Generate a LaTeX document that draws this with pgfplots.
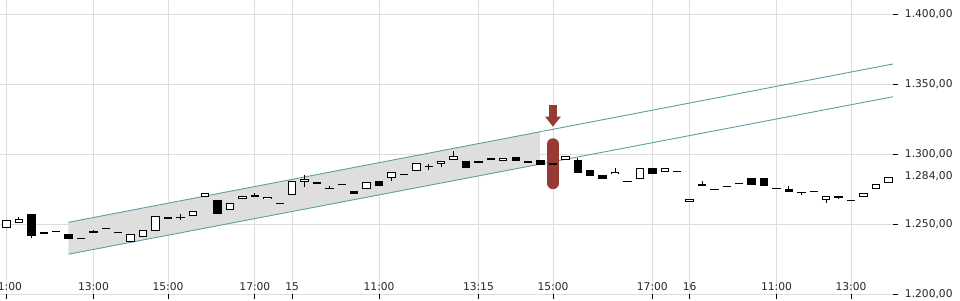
\documentclass[border=0pt]{standalone}
\usepackage{pgfplots}
\pgfplotsset{compat=1.18}
\usepackage{pgfplotstable}
\usepackage{fontspec}
\setmainfont{DejaVu Sans}
\usetikzlibrary{arrows.meta}
\definecolor{gridc}{RGB}{221,221,221}
\definecolor{chan}{RGB}{95,158,160}
\definecolor{shadec}{RGB}{222,222,222}
\definecolor{sigred}{RGB}{152,58,52}

\pgfplotstableread{
x o h l c
0 1246.9 1252.6 1246.9 1252.6
1 1250.5 1255.0 1250.5 1253.8
2 1257.1 1257.1 1240.2 1241.6
3 1244.3 1244.3 1242.6 1242.6
4 1244.8 1244.8 1244.8 1244.8
5 1242.9 1242.9 1239.5 1239.5
6 1239.8 1239.8 1239.8 1239.8
7 1245.0 1245.9 1243.4 1243.8
8 1246.9 1246.9 1246.9 1246.9
9 1244.1 1244.1 1244.1 1244.1
10 1236.9 1242.6 1236.9 1242.6
11 1240.5 1245.5 1240.5 1245.5
12 1244.8 1255.5 1244.8 1255.5
13 1254.8 1254.8 1253.8 1253.8
14 1255.0 1257.5 1252.9 1254.0
15 1255.5 1259.3 1255.5 1259.3
16 1269.5 1272.1 1269.5 1272.1
17 1267.1 1267.1 1256.9 1256.9
18 1259.8 1265.0 1259.8 1265.0
19 1267.6 1269.8 1267.6 1269.8
20 1270.7 1271.9 1269.1 1269.1
21 1267.6 1269.1 1267.6 1269.1
22 1264.3 1264.3 1264.3 1264.3
23 1270.5 1280.7 1270.5 1280.7
24 1280.2 1285.0 1276.2 1282.1
25 1280.0 1280.0 1278.4 1278.4
26 1275.4 1277.1 1274.8 1274.8
27 1278.0 1278.0 1278.0 1278.0
28 1273.6 1273.6 1271.7 1271.7
29 1274.8 1279.8 1274.8 1279.8
30 1280.7 1280.7 1276.9 1276.9
31 1283.1 1287.4 1280.9 1287.4
32 1285.2 1285.2 1285.2 1285.2
33 1288.1 1293.6 1288.1 1293.6
34 1291.0 1292.9 1288.6 1290.5
35 1292.6 1294.8 1290.5 1294.8
36 1295.7 1301.9 1295.7 1298.6
37 1295.2 1295.2 1290.2 1290.2
38 1293.4 1294.8 1293.4 1294.8
39 1295.5 1296.9 1295.5 1296.9
40 1294.8 1296.9 1294.8 1296.9
41 1297.6 1297.6 1295.0 1295.0
42 1295.0 1295.0 1293.6 1293.6
43 1295.7 1295.7 1292.4 1292.4
44 1293.8 1293.8 1292.4 1292.4
45 1295.5 1298.4 1295.5 1298.4
46 1295.7 1296.9 1286.6 1286.6
47 1288.6 1288.6 1284.5 1284.5
48 1285.0 1285.0 1282.4 1282.4
49 1285.5 1289.8 1285.5 1287.1
50 1280.5 1280.5 1280.5 1280.5
51 1281.9 1289.8 1281.9 1289.8
52 1290.0 1290.0 1285.5 1285.5
53 1286.9 1289.8 1286.9 1289.8
54 1287.6 1287.6 1287.6 1287.6
55 1265.5 1267.6 1265.5 1267.6
56 1278.6 1280.7 1277.4 1277.4
57 1274.8 1274.8 1274.8 1274.8
58 1276.9 1276.9 1276.9 1276.9
59 1278.6 1278.6 1278.6 1278.6
60 1282.6 1282.6 1278.1 1278.1
61 1282.6 1282.6 1277.4 1277.4
62 1275.5 1275.5 1275.5 1275.5
63 1274.8 1277.1 1273.1 1273.1
64 1272.9 1272.9 1270.9 1271.9
65 1272.9 1272.9 1272.9 1272.9
66 1266.9 1269.8 1265.2 1269.8
67 1269.8 1269.8 1268.1 1268.8
68 1266.9 1266.9 1266.9 1266.9
69 1269.1 1272.1 1269.1 1272.1
70 1275.2 1278.6 1275.2 1278.6
71 1279.5 1283.6 1279.5 1283.6
}\candles

\begin{document}
\begin{tikzpicture}
\path[use as bounding box] (0pt,-6pt) rectangle (960pt,294pt);
\begin{axis}[
  at={(0pt,0pt)}, anchor=south west,
  scale only axis, width=893pt, height=294pt,
  xmin=-0.523, xmax=71.38, ymin=1200, ymax=1410,
  axis line style={draw=none},
  grid=major, major grid style={gridc, line width=0.9pt},
  tick align=outside, major tick length=5pt,
  tick style={black, line width=0.9pt},
  xtick pos=bottom, ytick pos=right, yticklabel pos=right,
  xtick={0,7,13,20,23,30,38,44,52,55,62,68},
  xticklabels={11:00,13:00,15:00,17:00,15,11:00,13:15,15:00,17:00,16,11:00,13:00},
  ytick={1200,1250,1300,1350,1400},
  extra y ticks={1284},
  extra y tick style={grid=none, tick style={draw=none}},
  /pgf/number format/assume math mode=true,
  ticklabel style={font=\fontsize{10.7}{12}\selectfont, text=black!85},
  xticklabel style={anchor=base, yshift=8.3pt},
  yticklabel style={anchor=west, xshift=3.4pt,
    /pgf/number format/fixed, /pgf/number format/fixed zerofill,
    /pgf/number format/precision=2, /pgf/number format/use comma,
    /pgf/number format/1000 sep={.}},
]
\addplot[fill=shadec, draw=none] coordinates {(4.98,1251.2) (42.95,1315.9) (42.95,1292.7) (4.98,1228.4)} -- cycle;
\addplot[chan, line width=0.9pt] coordinates {(4.98,1251.2) (71.38,1364.3)};
\addplot[chan, line width=0.9pt] coordinates {(4.98,1228.4) (71.38,1340.9)};
\addplot[sigred, line width=11.6pt, line cap=round] coordinates {(44,1279.0) (44,1307.1)};
\addplot[sigred, line width=8.4pt, -{Triangle[width=15pt,length=10pt]}] coordinates {(44,1335.0) (44,1319.5)};
\addplot[black, line width=1pt, no markers, quiver={u=0, v=\thisrow{h}-\thisrow{l}}] table[x=x, y=l] {\candles};
\addplot[black, line width=8.4pt, no markers, quiver={u=0, v={max(abs(\thisrow{c}-\thisrow{o}),0.72)}}] table[x=x, y expr={min(\thisrow{o},\thisrow{c})-max(0.72-abs(\thisrow{c}-\thisrow{o}),0)/2}] {\candles};
\addplot[white, line width=6.4pt, no markers, restrict expr to domain={\thisrow{c}-\thisrow{o}}{1.44:1000}, quiver={u=0, v={\thisrow{c}-\thisrow{o}-1.44}}] table[x=x, y expr={\thisrow{o}+0.72}] {\candles};
\end{axis}
\end{tikzpicture}
\end{document}
